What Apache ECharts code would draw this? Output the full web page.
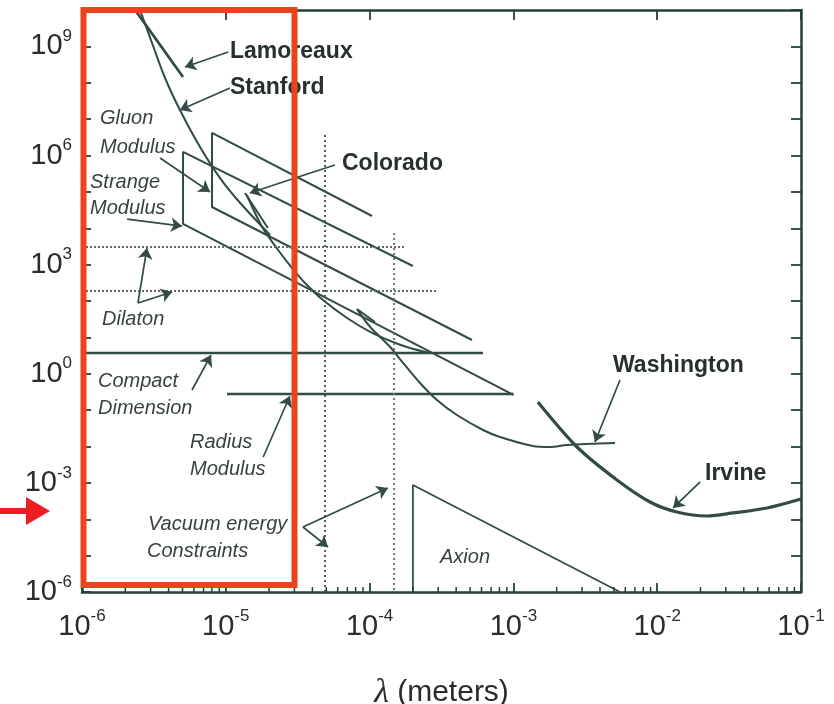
<!DOCTYPE html>
<html>
<head>
<meta charset="utf-8">
<script src="https://cdn.jsdelivr.net/npm/echarts@6/dist/echarts.min.js"></script>
<style>html,body{margin:0;padding:0;background:#fff;}#c{width:834px;height:704px;}</style>
</head>
<body>
<div id="c"></div>
<script>
// ---- data (lambda in meters, alpha strength) ----
const yMin = 1e-6, yMax = 1e10;
const xMin = 1e-6, xMax = 1e-1;

const lamoreauxX = [2.34e-6, 5.04e-6];
const lamoreauxY = [1e10, 1.44e8];

const stanfordX = [2.53e-6, 3.07e-6, 3.78e-6, 4.80e-6, 6.62e-6, 9.12e-6, 1.26e-5, 2.03e-5];
const stanfordY = [1e10, 1.24e9, 1.35e8, 1.78e7, 1.71e6, 2.40e5, 4.94e4, 6.52e3];

const coloradoX = [1.40e-5, 1.79e-5, 2.31e-5, 2.89e-5, 3.56e-5, 4.74e-5, 6.97e-5, 1.01e-4, 1.45e-4, 1.91e-4, 2.63e-4];
const coloradoY = [8.2e4, 1.08e4, 2.52e3, 807, 313, 106, 34.1, 14.1, 7.46, 5.10, 3.72];
const coloradoTipX = [1.36e-5, 1.96e-5];
const coloradoTipY = [9.31e4, 1.02e4];

const bowlX = [8.17e-5, 1.01e-4, 1.39e-4, 1.71e-4, 2.24e-4, 2.94e-4, 4.05e-4, 6.15e-4, 8.07e-4, 1.37e-3, 1.80e-3, 2.36e-3, 5.09e-3];
const bowlY = [60, 19.3, 5.43, 1.98, 0.557, 0.190, 0.0735, 0.0284, 0.0182, 0.0103, 0.00968, 0.0110, 0.0125];
const bowlTipX = [8.17e-5, 1.09e-4];
const bowlTipY = [60, 26.5];

const irvineX = [1.48e-3, 2.77e-3, 5.25e-3, 8.91e-3, 1.37e-2, 2.22e-2, 3.37e-2, 5.80e-2, 0.1];
const irvineY = [0.167, 0.00968, 1.20e-3, 2.98e-4, 1.58e-4, 1.23e-4, 1.49e-4, 2.04e-4, 3.60e-4];

const gluonX = [1.04e-4, 8.02e-6, 8.02e-6, 5.15e-4];
const gluonY = [2.17e4, 4.16e6, 3.84e4, 8.47];

const strangeX = [2.0e-4, 5.04e-6, 5.04e-6, 1.0e-3];
const strangeY = [916, 1.25e6, 1.31e4, 0.261];

const dilatonUpperX = [1e-6, 1.76e-4];
const dilatonUpperY = [3.05e3, 3.05e3];
const dilatonLowerX = [1e-6, 3.0e-4];
const dilatonLowerY = [188, 188];

const compactX = [1e-6, 6.15e-4];
const compactY = [3.72, 3.72];
const radiusX = [1.02e-5, 1.0e-3];
const radiusY = [0.277, 0.277];

const vacuum1X = [4.9e-5, 4.9e-5];
const vacuum1Y = [3.66e6, 1e-6];
const vacuum2X = [1.48e-4, 1.48e-4];
const vacuum2Y = [7.4e3, 1e-6];

const axionX = [2e-4, 2e-4, 5.51e-3];
const axionY = [1e-6, 8.75e-4, 1e-6];

// arrows: [tail, head] in data units
const arrowLamoreaux = [[1.04e-5, 7.0e8], [5.2e-6, 2.71e8]];
const arrowStanford = [[1.07e-5, 7.18e7], [4.8e-6, 1.78e7]];
const arrowGluon = [[3.49e-6, 8.53e5], [7.77e-6, 9.93e4]];
const arrowStrange = [[2.06e-6, 1.79e4], [4.96e-6, 1.15e4]];
const coloradoLeaderX = [5.74e-5, 3.03e-5];
const coloradoLeaderY = [5.48e5, 2.40e5];
const arrowColorado = [[3.03e-5, 2.40e5], [1.47e-5, 9.31e4]];
const arrowDilaton1 = [[2.45e-6, 88.1], [2.83e-6, 2.86e3]];
const arrowDilaton2 = [[2.45e-6, 88.1], [4.23e-6, 177]];
const arrowCompact = [[5.82e-6, 0.357], [7.89e-6, 3.27]];
const arrowRadius = [[1.82e-5, 5.14e-3], [2.79e-5, 0.244]];
const arrowVacuum1 = [[3.44e-5, 6.12e-5], [1.34e-4, 7.23e-4]];
const arrowVacuum2 = [[3.44e-5, 6.12e-5], [5.14e-5, 1.73e-5]];
const arrowWashington = [[5.51e-3, 0.673], [3.69e-3, 0.0133]];
const arrowIrvine = [[1.99e-2, 1.06e-3], [1.29e-2, 2.04e-4]];

// ---- build ----
const zip = (xs, ys) => xs.map((x, i) => [x, ys[i]]);
const LINE = '#324b47';
const FRAME = '#24403c';
const TXT = '#2b2b2b';
const FONT = 'Liberation Sans, Arial, sans-serif';

function lineSeries(xs, ys, opts) {
  opts = opts || {};
  return {
    type: 'line', data: zip(xs, ys), showSymbol: false, symbol: 'none',
    smooth: opts.smooth || false, silent: true, z: opts.z || 3,
    lineStyle: { color: opts.color || LINE, width: opts.width || 2, type: opts.type || 'solid' }
  };
}

const minorTicks = [];
for (let e = -6; e <= -2; e++) for (let k = 2; k <= 9; k++) minorTicks.push([k * Math.pow(10, e)]);

const supFmt = (v) => '{b|10}{s|' + Math.round(Math.log10(v)) + '}';
const rich = {
  b: { fontSize: 29, fontFamily: FONT, color: TXT, lineHeight: 30 },
  s: { fontSize: 17, fontFamily: FONT, color: TXT, padding: [0, 0, 20, 0] }
};

const arrowSeries = {
  type: 'lines', coordinateSystem: 'cartesian2d', polyline: false, silent: true, z: 4,
  symbol: ['none', 'arrow'], symbolSize: 11,
  lineStyle: { color: LINE, width: 1.7, opacity: 1, curveness: 0 },
  data: [arrowLamoreaux, arrowStanford, arrowGluon, arrowStrange, arrowColorado, arrowDilaton1,
         arrowDilaton2, arrowCompact, arrowRadius, arrowVacuum1, arrowVacuum2, arrowWashington, arrowIrvine]
        .map(c => ({ coords: c }))
};

const boldLabels = [
  ['Lamoreaux', 230, 52], ['Stanford', 230, 88], ['Colorado', 342, 164],
  ['Washington', 613, 366], ['Irvine', 705, 474]
];
const italicLabels = [
  ['Gluon', 100, 118], ['Modulus', 100, 147], ['Strange', 90, 182], ['Modulus', 90, 208],
  ['Dilaton', 102, 319], ['Compact', 98, 381], ['Dimension', 98, 408],
  ['Radius', 190, 442], ['Modulus', 190, 469], ['Vacuum energy', 148, 524],
  ['Constraints', 147, 551], ['Axion', 440, 557]
];

const graphic = [];
boldLabels.forEach(l => graphic.push({ type: 'text', x: l[1], y: l[2], z: 50,
  style: { text: l[0], font: 'bold 23px ' + FONT, fill: '#26302f', textVerticalAlign: 'middle' } }));
italicLabels.forEach(l => graphic.push({ type: 'text', x: l[1], y: l[2], z: 50,
  style: { text: l[0], font: 'italic 20px ' + FONT, fill: '#37423f', textVerticalAlign: 'middle' } }));
// overlay highlight box and pointer arrow
graphic.push({ type: 'rect', z: 100, shape: { x: 83.5, y: 10, width: 211, height: 575 },
  style: { fill: 'none', stroke: '#E9441A', lineWidth: 6 } });
graphic.push({ type: 'polygon', z: 100,
  shape: { points: [[0, 508], [26, 508], [26, 497], [50, 511], [26, 525], [26, 514], [0, 514]] },
  style: { fill: '#EE1D23' } });

const axisLine = { show: true, onZero: false, lineStyle: { color: FRAME, width: 2.5 } };

const option = {
  animation: false,
  backgroundColor: '#fff',
  grid: { left: 82, right: 33, top: 10, bottom: 112, containLabel: false, outerBoundsMode: 'none' },
  xAxis: [
    { type: 'log', logBase: 10, min: xMin, max: xMax, interval: 1, position: 'bottom',
      axisLine, splitLine: { show: false },
      axisTick: { inside: true, length: 9, lineStyle: { color: FRAME, width: 1.8 } },
      axisLabel: { formatter: supFmt, rich, margin: 16 },
      name: '{l|λ} (meters)', nameLocation: 'middle', nameGap: 84,
      nameTextStyle: { fontSize: 30, fontFamily: FONT, color: TXT,
        rich: { l: { fontFamily: 'Liberation Serif, serif', fontStyle: 'italic', fontSize: 34, color: TXT } } } },
    { type: 'log', logBase: 10, min: xMin, max: xMax, interval: 1, position: 'top',
      axisLine, splitLine: { show: false }, axisLabel: { show: false },
      axisTick: { inside: true, length: 10, lineStyle: { color: FRAME, width: 1.8 } } }
  ],
  yAxis: [
    { type: 'log', logBase: 10, min: yMin, max: yMax, interval: 1, position: 'left',
      axisLine, splitLine: { show: false },
      axisTick: { inside: true, length: 9, lineStyle: { color: FRAME, width: 1.8 } },
      axisLabel: { formatter: (v) => { const e = Math.round(Math.log10(v)); return e % 3 === 0 ? '{b|10}{s|' + e + '}' : ''; },
        rich, margin: 10 } },
    { type: 'log', logBase: 10, min: yMin, max: yMax, interval: 1, position: 'right',
      axisLine, splitLine: { show: false }, axisLabel: { show: false },
      axisTick: { inside: true, length: 10, lineStyle: { color: FRAME, width: 1.8 } } }
  ],
  graphic,
  series: [
    lineSeries(lamoreauxX, lamoreauxY, { width: 2.8 }),
    lineSeries(stanfordX, stanfordY, { smooth: 0.3 }),
    lineSeries(coloradoX, coloradoY, { smooth: 0.3 }),
    lineSeries(coloradoTipX, coloradoTipY),
    lineSeries(bowlX, bowlY, { smooth: 0.3 }),
    lineSeries(bowlTipX, bowlTipY),
    lineSeries(irvineX, irvineY, { smooth: 0.3, width: 3.2 }),
    lineSeries(gluonX, gluonY),
    lineSeries(strangeX, strangeY),
    lineSeries(dilatonUpperX, dilatonUpperY, { type: [2, 2], width: 2, color: '#5b6b67' }),
    lineSeries(dilatonLowerX, dilatonLowerY, { type: [2, 2], width: 2, color: '#5b6b67' }),
    lineSeries(compactX, compactY, { width: 2.6 }),
    lineSeries(radiusX, radiusY, { width: 2.6 }),
    lineSeries(vacuum1X, vacuum1Y, { type: [2, 3], width: 2, color: '#4a5a56' }),
    lineSeries(vacuum2X, vacuum2Y, { type: [2, 3], width: 2, color: '#6a7874' }),
    lineSeries(axionX, axionY, { width: 1.8 }),
    lineSeries(coloradoLeaderX, coloradoLeaderY, { width: 1.7 }),
    arrowSeries,
    { type: 'custom', silent: true, z: 5, data: minorTicks,
      renderItem: (params, api) => {
        const p = api.coord([api.value(0), yMin]);
        return { type: 'line', shape: { x1: p[0], y1: p[1], x2: p[0], y2: p[1] - 5 },
          style: { stroke: FRAME, lineWidth: 1.5 } };
      } }
  ]
};

const chart = echarts.init(document.getElementById('c'), null, { renderer: 'canvas' });
chart.setOption(option);
</script>
</body>
</html>
